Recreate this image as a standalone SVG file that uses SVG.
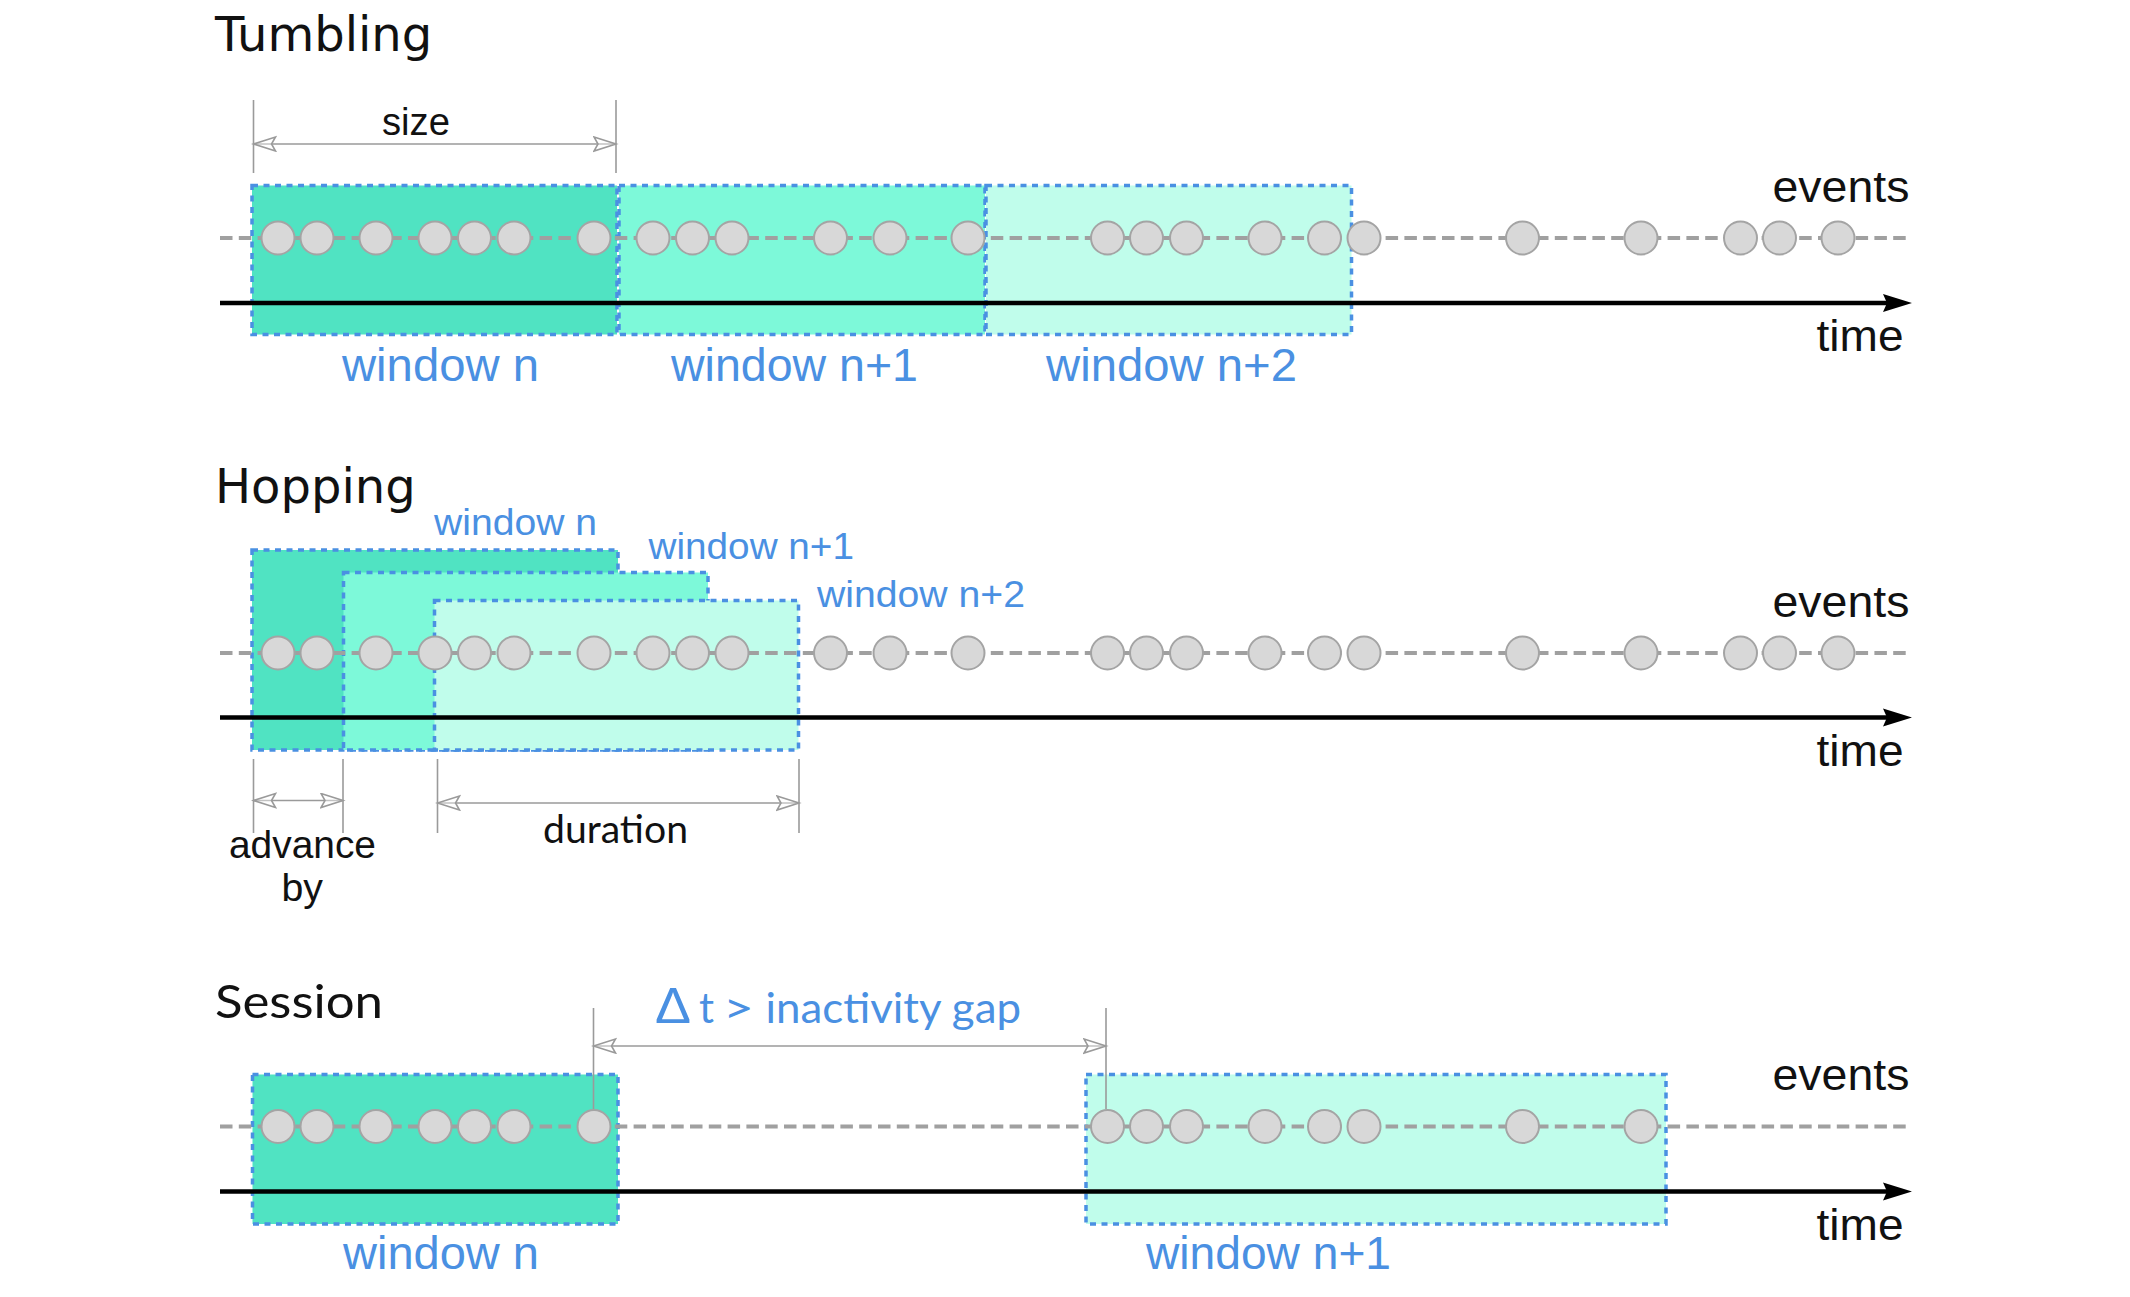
<svg xmlns="http://www.w3.org/2000/svg" xmlns:xlink="http://www.w3.org/1999/xlink" width="2130" height="1297" viewBox="0 0 2130 1297">
<style>
.bg{fill:#ffffff}
.title{font-family:"DejaVu Sans",sans-serif;font-size:48px;fill:#111}
.title2{font-family:Lato,"Open Sans",sans-serif;font-size:46px;fill:#111}
.blk{font-family:"Liberation Sans",Arial,sans-serif;font-size:38px;fill:#111}
.cal{font-family:Lato,"Open Sans",sans-serif;font-size:38px;fill:#111}
.lab{font-family:"Liberation Sans",Arial,sans-serif;font-size:46px;fill:#4A90E2}
.labs{font-family:"Liberation Sans",Arial,sans-serif;font-size:36px;fill:#4A90E2}
.ax{font-family:"Liberation Sans",Arial,sans-serif;font-size:44px;fill:#111}
.w0{fill:#50E3C2;stroke:#4A90E2;stroke-width:3.5;stroke-dasharray:6 5.5}
.w1{fill:#7DF9D9;stroke:#4A90E2;stroke-width:3.5;stroke-dasharray:6 5.5}
.w2{fill:#C0FDEB;stroke:#4A90E2;stroke-width:3.5;stroke-dasharray:6 5.5}
.evl{stroke:#A0A0A0;stroke-width:3.8;stroke-dasharray:12.5 6.3;fill:none}
.ev{fill:#D8D8D8;stroke:#A4A4A4;stroke-width:2}
.axis{stroke:#000;stroke-width:4.5;fill:none}
.dim{stroke:#9A9A9A;stroke-width:1.6;fill:none}
.dima{stroke:#9A9A9A;stroke-width:1.6;fill:none;marker-start:url(#hollow);marker-end:url(#hollow)}
</style>
<defs>
<marker id="hollow" markerUnits="userSpaceOnUse" markerWidth="26" markerHeight="18" refX="23" refY="8" orient="auto-start-reverse" viewBox="0 0 26 18">
<path d="M1,1 L23,8 L1,15 L5,8 Z" fill="#ffffff" fill-opacity="0.4" stroke="#9A9A9A" stroke-width="1.6"/>
</marker>
<path id="tip" d="M0,0 L-29,-9 L-25,0 L-29,9 Z" fill="#000"/>
</defs>
<rect class="bg" x="0" y="0" width="2130" height="1297"/>

<!-- Tumbling -->
<g id="tumbling">
<text class="title" x="215" y="51">Tumbling</text>
<g id="t-window-n"><rect class="w0" x="252" y="185.5" width="365" height="149"/></g>
<g id="t-window-n1"><rect class="w1" x="619" y="185.5" width="366" height="149"/></g>
<g id="t-window-n2"><rect class="w2" x="986" y="185.5" width="365.5" height="149"/></g>
<line class="evl" x1="220" y1="238" x2="1911" y2="238"/>
<g id="t-events">
<circle class="ev" cx="278" cy="238" r="16.5"/><circle class="ev" cx="317" cy="238" r="16.5"/><circle class="ev" cx="376" cy="238" r="16.5"/><circle class="ev" cx="435" cy="238" r="16.5"/><circle class="ev" cx="474.5" cy="238" r="16.5"/><circle class="ev" cx="514" cy="238" r="16.5"/><circle class="ev" cx="594" cy="238" r="16.5"/><circle class="ev" cx="653" cy="238" r="16.5"/><circle class="ev" cx="692.5" cy="238" r="16.5"/><circle class="ev" cx="732" cy="238" r="16.5"/><circle class="ev" cx="830.5" cy="238" r="16.5"/><circle class="ev" cx="890" cy="238" r="16.5"/><circle class="ev" cx="968" cy="238" r="16.5"/><circle class="ev" cx="1107.5" cy="238" r="16.5"/><circle class="ev" cx="1146.5" cy="238" r="16.5"/><circle class="ev" cx="1186.5" cy="238" r="16.5"/><circle class="ev" cx="1265" cy="238" r="16.5"/><circle class="ev" cx="1324.5" cy="238" r="16.5"/><circle class="ev" cx="1364" cy="238" r="16.5"/><circle class="ev" cx="1522.5" cy="238" r="16.5"/><circle class="ev" cx="1641" cy="238" r="16.5"/><circle class="ev" cx="1740.5" cy="238" r="16.5"/><circle class="ev" cx="1779.5" cy="238" r="16.5"/><circle class="ev" cx="1838" cy="238" r="16.5"/>
</g>
<line class="axis" x1="220" y1="303" x2="1890" y2="303"/>
<use xlink:href="#tip" x="1912" y="303"/>
<text class="blk" x="416" y="135" text-anchor="middle" textLength="68" lengthAdjust="spacingAndGlyphs">size</text>
<text class="ax" x="1772.5" y="201.5" textLength="137" lengthAdjust="spacingAndGlyphs">events</text>
<text class="ax" x="1816.5" y="351" textLength="87" lengthAdjust="spacingAndGlyphs">time</text>
<text class="lab" x="342" y="381" textLength="197" lengthAdjust="spacingAndGlyphs">window n</text>
<text class="lab" x="671" y="381" textLength="247" lengthAdjust="spacingAndGlyphs">window n+1</text>
<text class="lab" x="1046" y="381" textLength="251" lengthAdjust="spacingAndGlyphs">window n+2</text>
</g>

<!-- Hopping -->
<g id="hopping">
<text class="title" x="215" y="503">Hopping</text>
<g id="h-window-n"><rect class="w0" x="252" y="550" width="366" height="200"/></g>
<g id="h-window-n1"><rect class="w1" x="343.5" y="572.5" width="364.5" height="177.5"/></g>
<g id="h-window-n2"><rect class="w2" x="434.5" y="600.5" width="364" height="149.5"/></g>
<line class="evl" x1="220" y1="653" x2="1911" y2="653"/>
<g id="h-events">
<circle class="ev" cx="278" cy="653" r="16.5"/><circle class="ev" cx="317" cy="653" r="16.5"/><circle class="ev" cx="376" cy="653" r="16.5"/><circle class="ev" cx="435" cy="653" r="16.5"/><circle class="ev" cx="474.5" cy="653" r="16.5"/><circle class="ev" cx="514" cy="653" r="16.5"/><circle class="ev" cx="594" cy="653" r="16.5"/><circle class="ev" cx="653" cy="653" r="16.5"/><circle class="ev" cx="692.5" cy="653" r="16.5"/><circle class="ev" cx="732" cy="653" r="16.5"/><circle class="ev" cx="830.5" cy="653" r="16.5"/><circle class="ev" cx="890" cy="653" r="16.5"/><circle class="ev" cx="968" cy="653" r="16.5"/><circle class="ev" cx="1107.5" cy="653" r="16.5"/><circle class="ev" cx="1146.5" cy="653" r="16.5"/><circle class="ev" cx="1186.5" cy="653" r="16.5"/><circle class="ev" cx="1265" cy="653" r="16.5"/><circle class="ev" cx="1324.5" cy="653" r="16.5"/><circle class="ev" cx="1364" cy="653" r="16.5"/><circle class="ev" cx="1522.5" cy="653" r="16.5"/><circle class="ev" cx="1641" cy="653" r="16.5"/><circle class="ev" cx="1740.5" cy="653" r="16.5"/><circle class="ev" cx="1779.5" cy="653" r="16.5"/><circle class="ev" cx="1838" cy="653" r="16.5"/>
</g>
<line class="axis" x1="220" y1="717.5" x2="1890" y2="717.5"/>
<use xlink:href="#tip" x="1912" y="717.5"/>
<text class="labs" x="434" y="535" textLength="163" lengthAdjust="spacingAndGlyphs">window n</text>
<text class="labs" x="648.5" y="559" textLength="205.5" lengthAdjust="spacingAndGlyphs">window n+1</text>
<text class="labs" x="817" y="607" textLength="208" lengthAdjust="spacingAndGlyphs">window n+2</text>
<text class="ax" x="1772.5" y="616.5" textLength="137" lengthAdjust="spacingAndGlyphs">events</text>
<text class="ax" x="1816.5" y="766" textLength="87" lengthAdjust="spacingAndGlyphs">time</text>
<text class="blk" x="229" y="858" textLength="147" lengthAdjust="spacingAndGlyphs">advance</text>
<text class="blk" x="281.5" y="901" textLength="41.5" lengthAdjust="spacingAndGlyphs">by</text>
<text class="cal" x="543" y="843" textLength="145" lengthAdjust="spacingAndGlyphs">duration</text>
</g>

<!-- Session -->
<g id="session">
<text class="title2" x="215" y="1018" textLength="168" lengthAdjust="spacingAndGlyphs">Session</text>
<g id="s-window-n"><rect class="w0" x="252.5" y="1074.5" width="365.5" height="149.5"/></g>
<g id="s-window-n1"><rect class="w2" x="1086" y="1074.5" width="580" height="149.5"/></g>
<line class="evl" x1="220" y1="1126.5" x2="1911" y2="1126.5"/>
<g id="s-events">
<circle class="ev" cx="278" cy="1126.5" r="16.5"/><circle class="ev" cx="317" cy="1126.5" r="16.5"/><circle class="ev" cx="376" cy="1126.5" r="16.5"/><circle class="ev" cx="435" cy="1126.5" r="16.5"/><circle class="ev" cx="474.5" cy="1126.5" r="16.5"/><circle class="ev" cx="514" cy="1126.5" r="16.5"/><circle class="ev" cx="594" cy="1126.5" r="16.5"/><circle class="ev" cx="1107.5" cy="1126.5" r="16.5"/><circle class="ev" cx="1146.5" cy="1126.5" r="16.5"/><circle class="ev" cx="1186.5" cy="1126.5" r="16.5"/><circle class="ev" cx="1265" cy="1126.5" r="16.5"/><circle class="ev" cx="1324.5" cy="1126.5" r="16.5"/><circle class="ev" cx="1364" cy="1126.5" r="16.5"/><circle class="ev" cx="1522.5" cy="1126.5" r="16.5"/><circle class="ev" cx="1641" cy="1126.5" r="16.5"/>
</g>
<line class="axis" x1="220" y1="1191.5" x2="1890" y2="1191.5"/>
<use xlink:href="#tip" x="1912" y="1191.5"/>
<text class="ax" x="1772.5" y="1090" textLength="137" lengthAdjust="spacingAndGlyphs">events</text>
<text class="ax" x="1816.5" y="1240" textLength="87" lengthAdjust="spacingAndGlyphs">time</text>
<text class="lab" x="343" y="1269" textLength="196" lengthAdjust="spacingAndGlyphs">window n</text>
<text class="lab" x="1146" y="1269" textLength="245" lengthAdjust="spacingAndGlyphs">window n+1</text>
<text font-family="'Liberation Sans',Arial,sans-serif" font-size="50" fill="#4A90E2" x="655" y="1023" textLength="36" lengthAdjust="spacingAndGlyphs">Δ</text>
<text font-family="Lato,'Open Sans',sans-serif" font-size="42" fill="#4A90E2" x="699" y="1023">t</text>
<text font-family="Lato,'Open Sans',sans-serif" font-size="42" fill="#4A90E2" x="723" y="1023" textLength="31" lengthAdjust="spacingAndGlyphs">&gt;</text>
<text font-family="Lato,'Open Sans',sans-serif" font-size="42" fill="#4A90E2" x="765.5" y="1023" textLength="255.5" lengthAdjust="spacingAndGlyphs">inactivity gap</text>
</g>

<!-- dimension connectors -->
<g id="connectors">
<line class="dim" x1="253.5" y1="100" x2="253.5" y2="173"/>
<line class="dim" x1="616" y1="100" x2="616" y2="173"/>
<line class="dima" x1="253.5" y1="144" x2="616" y2="144"/>
<line class="dim" x1="253.5" y1="759" x2="253.5" y2="833"/>
<line class="dim" x1="343" y1="759" x2="343" y2="833"/>
<line class="dima" x1="253.5" y1="800.5" x2="343" y2="800.5"/>
<line class="dim" x1="437.5" y1="759" x2="437.5" y2="833"/>
<line class="dim" x1="799" y1="759" x2="799" y2="833"/>
<line class="dima" x1="437.5" y1="803" x2="799" y2="803"/>
<line class="dim" x1="593.5" y1="1008" x2="593.5" y2="1109"/>
<line class="dim" x1="1106" y1="1008" x2="1106" y2="1109"/>
<line class="dima" x1="593.5" y1="1046" x2="1106" y2="1046"/>
</g>
</svg>
